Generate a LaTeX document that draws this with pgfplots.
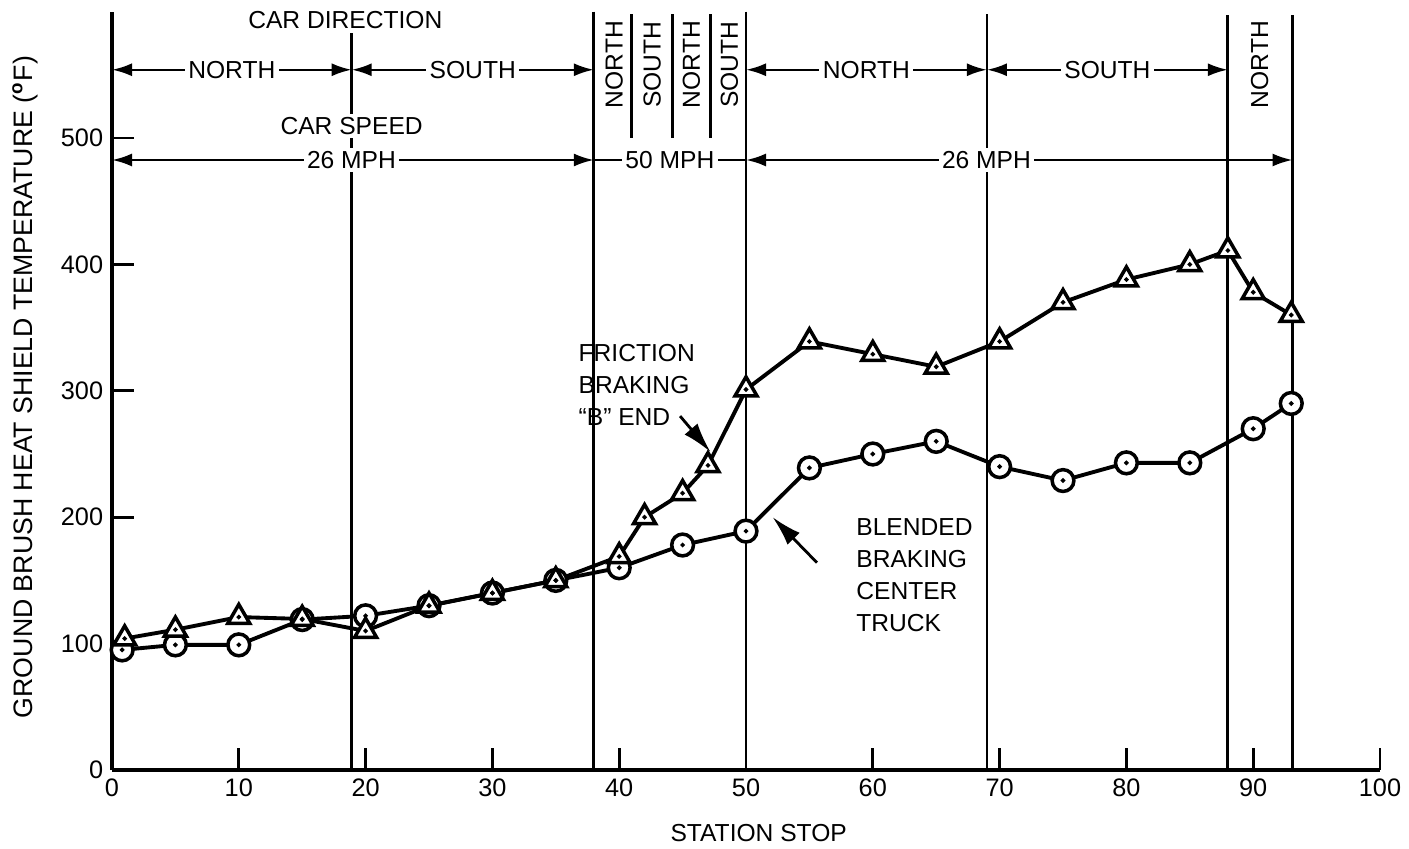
\documentclass[border=0pt]{standalone}
\usepackage{fontspec}
\setmainfont{Liberation Sans}
\usepackage{pgfplots}
\pgfplotsset{compat=1.18}
\usetikzlibrary{arrows.meta}

\begin{document}
\fontsize{7}{8}\selectfont
\begin{tikzpicture}[
  dar/.style={{Latex[length=2mm,width=1.3mm]}-{Latex[length=2mm,width=1.3mm]}, line width=0.7pt},
  lab/.style={fill=white, inner sep=1pt, font=\fontsize{7}{8}\selectfont},
  vl/.style={line width=0.8pt},
]
\begin{axis}[
  scale only axis, width=12.68cm, height=7.584cm,
  xmin=0, xmax=100, ymin=0, ymax=600,
  axis x line=bottom, axis y line=left,
  axis line style={line width=1.2pt, -},
  xtick={0,10,...,100}, ytick={0,100,...,500},
  tick align=inside, major tick length=0.22cm,
  tick style={line width=0.8pt, black},
  ticklabel style={font=\fontsize{7.2}{8}\selectfont},
  /pgf/number format/assume math mode=true,
  clip=false,
  xlabel={STATION STOP},
  xlabel style={at={(axis description cs:0.51,0)}, anchor=center, yshift=-0.63cm, font=\fontsize{7}{8}\selectfont},
  ylabel={GROUND BRUSH HEAT SHIELD TEMPERATURE (\textsuperscript{\bfseries o}F)},
  ylabel style={at={(axis description cs:-0.0686,0.505)}, anchor=center, font=\fontsize{7.6}{8}\selectfont},
]
\coordinate (O) at (axis cs:0,0);
% vertical divider lines
\draw[vl] (axis cs:18.9,583) -- (axis cs:18.9,0);
\draw[vl] (axis cs:38,600) -- (axis cs:38,0);
\draw[vl] (axis cs:41.0,598) -- (axis cs:41.0,500);
\draw[vl] (axis cs:44.2,598) -- (axis cs:44.2,500);
\draw[vl] (axis cs:47.2,598) -- (axis cs:47.2,500);
\draw[vl] (axis cs:50,600) -- (axis cs:50,0);
\draw[vl] (axis cs:69,598) -- (axis cs:69,0);
\draw[vl] (axis cs:88,597) -- (axis cs:88,0);
\draw[vl] (axis cs:93.1,597) -- (axis cs:93.1,0);

% headings
\node at (axis cs:18.4,593) {CAR DIRECTION};
\node[lab] at (axis cs:18.9,509.5) {CAR SPEED};

% direction row
\draw[dar] (axis cs:0,554) -- node[lab]{NORTH} (axis cs:18.9,554);
\draw[dar] (axis cs:18.9,554) -- node[lab]{SOUTH} (axis cs:38,554);
\draw[dar] (axis cs:50,554) -- node[lab]{NORTH} (axis cs:69,554);
\draw[dar] (axis cs:69,554) -- node[lab]{SOUTH} (axis cs:88,554);
\node[rotate=90] at (axis cs:39.6,558) {NORTH};
\node[rotate=90] at (axis cs:42.6,558) {SOUTH};
\node[rotate=90] at (axis cs:45.7,558) {NORTH};
\node[rotate=90] at (axis cs:48.7,558) {SOUTH};
\node[rotate=90] at (axis cs:90.5,558) {NORTH};

% speed row
\draw[dar] (axis cs:0,482.6) -- node[lab,pos=0.497]{26 MPH} (axis cs:38,482.6);
\draw[line width=0.7pt] (axis cs:38,482.6) -- node[lab]{50 MPH} (axis cs:50,482.6);
\draw[dar] (axis cs:50,482.6) -- node[lab,pos=0.44]{26 MPH} (axis cs:93.1,482.6);

% blended braking
\addplot[line width=1.1pt, mark=*, mark size=3.1pt, mark options={fill=white, line width=1pt}]
 coordinates {(0.8,95) (5,99) (10,99) (15,119) (20,122) (25,130) (30,140) (35,150) (40,160) (45,178) (50,189) (55,239) (60,250) (65,260) (70,240) (75,229) (80,243) (85,243) (90,270) (93,290)};
% friction braking
\addplot[line width=1.1pt, mark=triangle*, mark size=3.6pt, mark options={fill=white, line width=1pt}]
 coordinates {(1,104) (5,111) (10,121) (15,119.5) (20,110) (25,130) (30,140) (35,150) (40,169) (42,200) (45,219) (47,241) (50,301) (55,339) (60,329) (65,319) (70,339) (75,370) (80,388) (85,400) (88,411) (90,378) (93,360)};
% center dots
\addplot[only marks, mark=*, mark size=0.45pt]
 coordinates {(0.8,95) (5,99) (10,99) (15,119) (20,122) (25,130) (30,140) (35,150) (40,160) (45,178) (50,189) (55,239) (60,250) (65,260) (70,240) (75,229) (80,243) (85,243) (90,270) (93,290)};
\addplot[only marks, mark=*, mark size=0.45pt]
 coordinates {(1,104) (5,111) (10,121) (15,119.5) (20,110) (25,130) (30,140) (35,150) (40,169) (42,200) (45,219) (47,241) (50,301) (55,339) (60,329) (65,319) (70,339) (75,370) (80,388) (85,400) (88,411) (90,378) (93,360)};

% annotations
\node[anchor=west, align=left, font=\fontsize{7}{9.1}\selectfont] at (axis cs:36.1,304.6) {FRICTION\\BRAKING\\``B'' END};
\draw[-{Latex[length=3mm,width=1.7mm]}, line width=0.8pt] (axis cs:44.8,280) -- (axis cs:47.2,251.6);
\node[anchor=west, align=left, font=\fontsize{7}{9.1}\selectfont] at (axis cs:58.0,154.2) {BLENDED\\BRAKING\\CENTER\\TRUCK};
\draw[-{Latex[length=3mm,width=1.7mm]}, line width=0.8pt] (axis cs:55.6,164) -- (axis cs:52.1,200);
\end{axis}
\pgfresetboundingbox
\path (O) ++(-1.12cm,-0.79cm) rectangle ++(14.09cm,8.49cm);
\end{tikzpicture}
\end{document}
